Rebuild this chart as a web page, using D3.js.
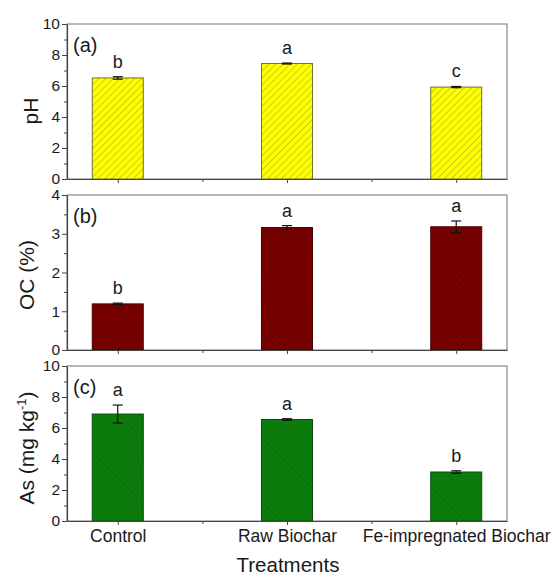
<!doctype html>
<html lang="en">
<head>
  <meta charset="utf-8">
  <title>Soil properties - D3</title>
  <style>
    body { margin: 0; background: #fff; }
    text { font-family: "Liberation Sans", Arial, sans-serif; fill: #1a1a1a; }
  </style>
</head>
<body>
  <svg width="553" height="577"></svg>

  <script src="https://cdn.jsdelivr.net/npm/d3@7/dist/d3.min.js"></script>
  <script>
    // data
    var categories = ['Control', 'Raw Biochar', 'Fe-impregnated Biochar'];

    var phValues = [6.52, 7.45, 5.93];
    var phErrors = [0.08, 0.03, 0.04];
    var phLetters = ['b', 'a', 'c'];
    var phTicks = [0, 2, 4, 6, 8, 10];

    var ocValues = [1.19, 3.16, 3.18];
    var ocErrors = [0.02, 0.05, 0.15];
    var ocLetters = ['b', 'a', 'a'];
    var ocTicks = [0, 1, 2, 3, 4];

    var asValues = [6.9, 6.55, 3.16];
    var asErrors = [0.58, 0.05, 0.08];
    var asLetters = ['a', 'a', 'b'];
    var asTicks = [0, 2, 4, 6, 8, 10];

    var svg = d3.select('svg');
    var left = 67, right = 507, panelH = 155;

    var x = d3.scaleLinear().domain([0.7, 3.3]).range([left, right]);
    var barW = 51;

    // hatch patterns
    var defs = svg.append('defs');
    function hatch(id, fill, line, angle, cross) {
      var p = defs.append('pattern')
        .attr('id', id)
        .attr('patternUnits', 'userSpaceOnUse')
        .attr('width', 5).attr('height', 5)
        .attr('patternTransform', 'rotate(' + angle + ')');
      p.append('rect').attr('width', 5).attr('height', 5).attr('fill', fill);
      p.append('line').attr('x1', 0).attr('y1', 0).attr('x2', 0).attr('y2', 5)
        .attr('stroke', line).attr('stroke-width', 1);
      if (cross) {
        p.append('line').attr('x1', 0).attr('y1', 0).attr('x2', 5).attr('y2', 0)
          .attr('stroke', line).attr('stroke-width', 1);
      }
    }
    hatch('hatchY', '#ffff00', '#9a9a3a', 45, false);
    hatch('hatchR', '#7a0000', '#5e0000', 45, true);
    hatch('hatchG', '#0c7c0c', '#086a0c', -45, false);

    var panels = [
      { top: 24, max: 10, ticks: phTicks, minor: 1, values: phValues, errors: phErrors, letters: phLetters,
        fill: 'url(#hatchY)', edge: '#6f6f30', tag: '(a)', labelX: 38 },
      { top: 195, max: 4, ticks: ocTicks, minor: 0.5, values: ocValues, errors: ocErrors, letters: ocLetters,
        fill: 'url(#hatchR)', edge: '#4a0000', tag: '(b)', labelX: 34 },
      { top: 366, max: 10, ticks: asTicks, minor: 1, values: asValues, errors: asErrors, letters: asLetters,
        fill: 'url(#hatchG)', edge: '#0a4a0a', tag: '(c)', labelX: 34 }
    ];

    panels.forEach(function (p, k) {
      var y = d3.scaleLinear().domain([0, p.max]).range([p.top + panelH, p.top]);
      var g = svg.append('g');

      // frame
      g.append('rect')
        .attr('x', left).attr('y', p.top)
        .attr('width', right - left).attr('height', panelH)
        .attr('fill', 'none').attr('stroke', '#8a8a8a').attr('stroke-width', 1.2);

      // bars
      var data = categories.map(function (c, i) {
        return { i: i + 1, v: p.values[i], e: p.errors[i], l: p.letters[i] };
      });
      g.selectAll('rect.bar').data(data).enter()
        .append('rect')
        .attr('class', 'bar')
        .attr('x', function (d) { return x(d.i) - barW / 2; })
        .attr('y', function (d) { return y(d.v); })
        .attr('width', barW)
        .attr('height', function (d) { return y(0) - y(d.v); })
        .attr('fill', p.fill)
        .attr('stroke', p.edge)
        .attr('stroke-width', 1);

      // error bars
      var eb = g.selectAll('g.err').data(data).enter().append('g').attr('class', 'err')
        .attr('stroke', '#111').attr('stroke-width', 1.2);
      eb.append('line')
        .attr('x1', function (d) { return x(d.i); }).attr('x2', function (d) { return x(d.i); })
        .attr('y1', function (d) { return y(d.v - d.e); }).attr('y2', function (d) { return y(d.v + d.e); });
      eb.append('line')
        .attr('x1', function (d) { return x(d.i) - 5; }).attr('x2', function (d) { return x(d.i) + 5; })
        .attr('y1', function (d) { return y(d.v + d.e); }).attr('y2', function (d) { return y(d.v + d.e); });
      eb.append('line')
        .attr('x1', function (d) { return x(d.i) - 5; }).attr('x2', function (d) { return x(d.i) + 5; })
        .attr('y1', function (d) { return y(d.v - d.e); }).attr('y2', function (d) { return y(d.v - d.e); });

      // significance letters
      g.selectAll('text.letter').data(data).enter()
        .append('text')
        .attr('class', 'letter')
        .attr('x', function (d) { return x(d.i); })
        .attr('y', function (d) { return y(d.v + d.e) - 9; })
        .attr('text-anchor', 'middle')
        .attr('font-size', '18px')
        .text(function (d) { return d.l; });

      // y axis with minor ticks
      var minorTicks = d3.range(0, p.max + 0.001, p.minor).filter(function (v) { return p.ticks.indexOf(v) < 0; });
      g.append('g')
        .attr('transform', 'translate(' + left + ',0)')
        .call(d3.axisLeft(y).tickValues(minorTicks).tickSize(3).tickFormat(''))
        .call(function (a) { a.select('.domain').remove(); a.selectAll('line').attr('stroke', '#444'); });
      var ya = g.append('g')
        .attr('transform', 'translate(' + left + ',0)')
        .call(d3.axisLeft(y).tickValues(p.ticks).tickFormat(d3.format('d'))
          .tickSize(5).tickPadding(2).tickSizeOuter(0));
      ya.select('.domain').attr('stroke', '#444').attr('stroke-width', 1.2);
      ya.selectAll('.tick line').attr('stroke', '#444');
      ya.selectAll('text').attr('font-size', '15.5px').attr('font-family', '"Liberation Sans", Arial, sans-serif').attr('fill', '#1a1a1a');

      // x axis: ticks at categories and midpoints
      var xa = g.append('g')
        .attr('transform', 'translate(0,' + (p.top + panelH) + ')')
        .call(d3.axisBottom(x).tickValues([1, 2, 3]).tickSize(4).tickSizeOuter(0)
          .tickFormat(function (d) { return k === 2 ? categories[d - 1] : ''; }).tickPadding(5));
      xa.select('.domain').attr('stroke', '#444').attr('stroke-width', 1.2);
      xa.selectAll('.tick line').attr('stroke', '#444');
      xa.selectAll('text').attr('font-size', '17.5px').attr('font-family', '"Liberation Sans", Arial, sans-serif').attr('fill', '#1a1a1a');
      g.append('g')
        .attr('transform', 'translate(0,' + (p.top + panelH) + ')')
        .call(d3.axisBottom(x).tickValues([1.5, 2.5]).tickSize(3).tickFormat(''))
        .call(function (a) { a.select('.domain').remove(); a.selectAll('line').attr('stroke', '#444'); });

      // panel tag
      g.append('text')
        .attr('x', 73).attr('y', p.top + 28)
        .attr('font-size', '20px')
        .text(p.tag);
    });

    // y axis titles
    function yTitle(p, cy, build) {
      var t = svg.append('text')
        .attr('transform', 'translate(' + p.labelX + ',' + cy + ') rotate(-90)')
        .attr('text-anchor', 'middle')
        .attr('font-size', '21px');
      build(t);
    }
    yTitle(panels[0], 111, function (t) { t.text('pH'); });
    yTitle(panels[1], 275, function (t) { t.text('OC (%)'); });
    yTitle(panels[2], 448, function (t) {
      t.append('tspan').text('As (mg kg');
      t.append('tspan').attr('font-size', '13px').attr('dy', -8).text('-1');
      t.append('tspan').attr('dy', 8).text(')');
    });

    // x axis title
    svg.append('text')
      .attr('x', 288).attr('y', 572)
      .attr('text-anchor', 'middle')
      .attr('font-size', '20.5px')
      .text('Treatments');
  </script>
</body>
</html>
